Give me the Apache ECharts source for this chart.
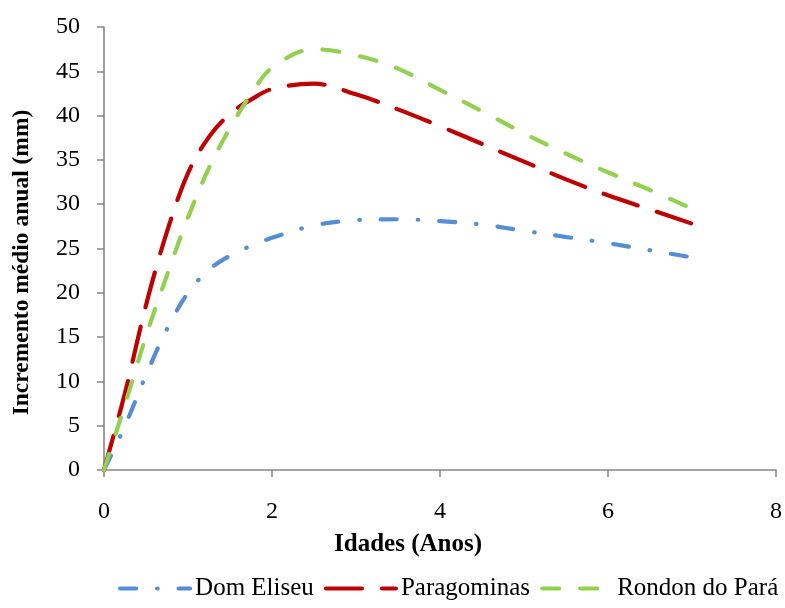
<!DOCTYPE html>
<html><head><meta charset="utf-8">
<script src="https://cdn.jsdelivr.net/npm/echarts@6/dist/echarts.min.js"></script>
<style>html,body{margin:0;padding:0;background:#fff}#c{width:785px;height:608px}</style>
</head><body><div id="c"></div>
<script>
const ages = [0,0.25,0.5,0.75,1,1.25,1.5,1.75,2,2.5,3,3.5,4,4.5,5,5.5,6,6.5,7];
const domEliseu = [0,5.0,10.7,15.9,20.0,22.6,24.2,25.3,26.2,27.6,28.2,28.3,28.1,27.7,27.0,26.3,25.6,24.8,24.0];
const paragominas = [0,8.7,18.6,26.9,33.5,37.6,40.2,41.8,43.0,43.6,42.4,40.7,38.8,36.8,34.8,32.8,31.0,29.4,27.8];
const rondon = [0,7.4,15.1,22.0,28.5,34.1,38.6,42.4,45.4,47.5,46.8,45.3,42.9,40.5,38.0,35.7,33.6,31.6,29.5];
const seriesNames = ['Dom Eliseu','Paragominas','Rondon do Pará'];
const xTitle = 'Idades (Anos)';
const yTitle = 'Incremento médio anual (mm)';

const font = 'Liberation Serif, Times New Roman, serif';
const pair = arr => ages.map((a,i)=>[a,arr[i]]);
const mk = (name, data, color, dash) => ({
  name, type:'line', data: pair(data), smooth:0.35, symbol:'none',
  lineStyle:{color, width:4.2, type:dash, cap:'round'},
  itemStyle:{color}
});
const chart = echarts.init(document.getElementById('c'));
chart.setOption({
  animation:false,
  grid:{left:104,right:8,top:27,bottom:138},
  xAxis:{type:'value',min:0,max:8,interval:2,name:xTitle,nameLocation:'middle',nameGap:62,
    nameTextStyle:{fontFamily:font,fontSize:25,fontWeight:'bold',color:'#000',padding:[0,64,0,0]},
    axisLine:{lineStyle:{color:'#868686',width:1.6}},
    axisTick:{show:true,length:7,lineStyle:{color:'#868686',width:1.5}},
    axisLabel:{fontFamily:font,fontSize:24,color:'#000',margin:30},
    splitLine:{show:false}},
  yAxis:{type:'value',min:0,max:50,interval:5,name:yTitle,nameLocation:'middle',nameGap:70,nameRotate:90,
    nameTextStyle:{fontFamily:font,fontSize:23.5,fontWeight:'bold',color:'#000',padding:[0,28,0,0]},
    axisLine:{show:true,lineStyle:{color:'#868686',width:1.6}},
    axisTick:{show:true,length:7,lineStyle:{color:'#868686',width:1.5}},
    axisLabel:{fontFamily:font,fontSize:24,color:'#000',margin:24},
    splitLine:{show:false}},
  legend:{top:576,left:118,width:667,padding:0,itemWidth:70,itemHeight:14,itemGap:10,
    itemStyle:{opacity:0},
    lineStyle:{width:4.2,cap:'round'},
    textStyle:{fontFamily:font,fontSize:25,color:'#000'},
    data:seriesNames},
  series:[
    mk(seriesNames[0], domEliseu, '#558ED5', [16,21,0.5,21]),
    mk(seriesNames[1], paragominas, '#C00000', [36,20]),
    mk(seriesNames[2], rondon, '#92D050', [17,21])
  ]
});
</script></body></html>
